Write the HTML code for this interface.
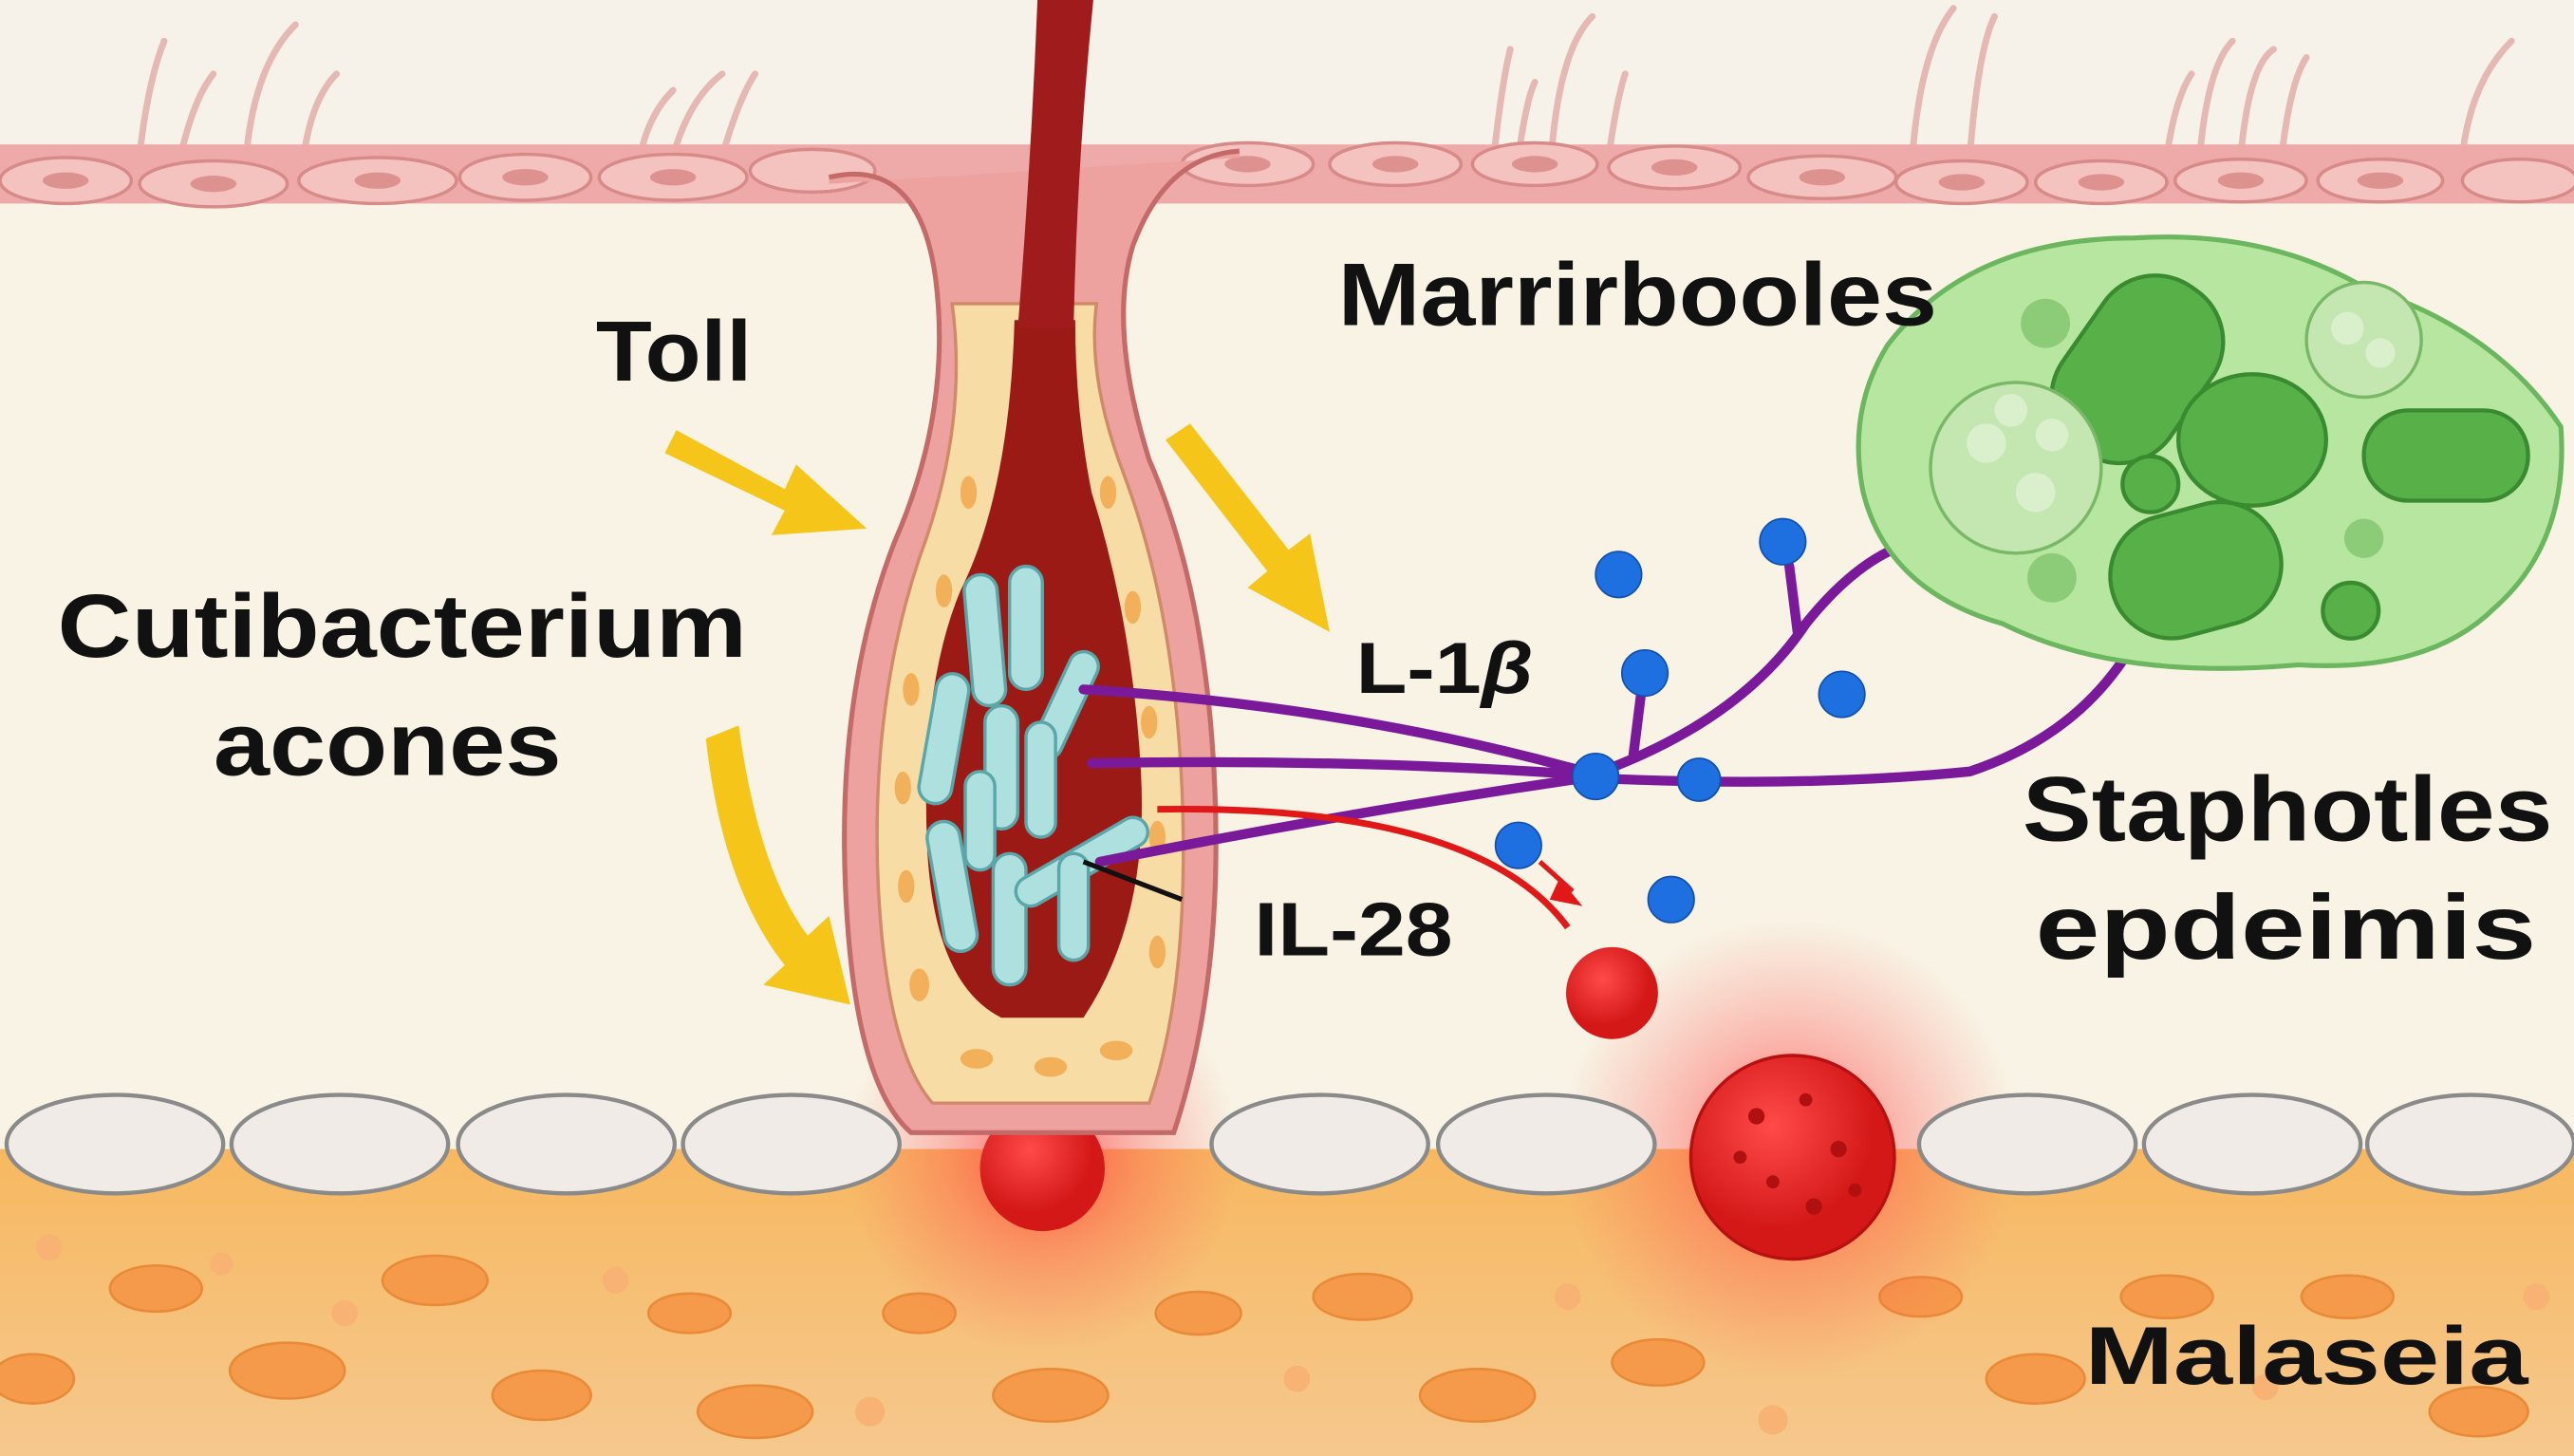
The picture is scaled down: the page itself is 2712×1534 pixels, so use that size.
<!DOCTYPE html>
<html><head><meta charset="utf-8"><style>html,body{margin:0;padding:0;overflow:hidden;background:#f8f3e4}svg{display:block}text{font-family:"Liberation Sans",sans-serif;font-weight:bold;fill:#111}</style></head>
<body>
<svg width="2712" height="1534" viewBox="0 0 1568 887" preserveAspectRatio="none" xmlns="http://www.w3.org/2000/svg">
<defs>
<radialGradient id="glow"><stop offset="0" stop-color="#ff3030" stop-opacity="0.75"/><stop offset="0.5" stop-color="#ff5050" stop-opacity="0.35"/><stop offset="1" stop-color="#ff6060" stop-opacity="0"/></radialGradient>
<radialGradient id="rball" cx="0.4" cy="0.35"><stop offset="0" stop-color="#ff4a4a"/><stop offset="1" stop-color="#d41818"/></radialGradient>
<linearGradient id="orange" x1="0" y1="0" x2="0" y2="1"><stop offset="0" stop-color="#f7b860"/><stop offset="1" stop-color="#f6c88e"/></linearGradient>
</defs>
<rect width="1568" height="887" fill="#f8f3e4"/>
<rect width="1568" height="100" fill="#f6f2ea"/>
<g stroke="#e6b8b4" stroke-width="4" fill="none" stroke-linecap="round">
<path d="M85 95 Q90 50 100 25"/><path d="M110 95 Q118 60 130 45"/><path d="M150 95 Q155 40 180 15"/><path d="M185 95 Q190 60 205 45"/>
<path d="M390 95 Q395 70 410 55"/><path d="M410 95 Q420 60 440 45"/><path d="M440 95 Q450 60 460 45"/>
<path d="M910 95 Q915 50 920 30"/><path d="M925 95 Q930 60 935 50"/><path d="M945 95 Q950 30 970 10"/><path d="M980 95 Q985 60 990 45"/>
<path d="M1165 95 Q1170 30 1190 5"/><path d="M1200 95 Q1205 30 1215 10"/><path d="M1320 95 Q1325 60 1335 45"/><path d="M1340 95 Q1345 40 1360 25"/><path d="M1365 95 Q1370 40 1385 30"/><path d="M1390 95 Q1395 50 1405 35"/><path d="M1500 95 Q1505 50 1530 25"/>
</g>
<rect x="0" y="88" width="1568" height="36" fill="#eeaaa8"/>
<g fill="#f4c2bf" stroke="#d88a88" stroke-width="2">
<ellipse cx="40" cy="110" rx="40" ry="14"/><ellipse cx="130" cy="112" rx="45" ry="14"/><ellipse cx="230" cy="110" rx="48" ry="14"/><ellipse cx="320" cy="108" rx="40" ry="14"/><ellipse cx="410" cy="108" rx="45" ry="14"/><ellipse cx="495" cy="104" rx="38" ry="13"/>
<ellipse cx="760" cy="100" rx="40" ry="13"/><ellipse cx="850" cy="100" rx="40" ry="13"/><ellipse cx="935" cy="100" rx="38" ry="13"/><ellipse cx="1020" cy="102" rx="40" ry="13"/><ellipse cx="1110" cy="108" rx="45" ry="13"/><ellipse cx="1195" cy="111" rx="40" ry="13"/><ellipse cx="1280" cy="111" rx="40" ry="13"/><ellipse cx="1365" cy="110" rx="40" ry="13"/><ellipse cx="1450" cy="110" rx="38" ry="13"/><ellipse cx="1535" cy="110" rx="35" ry="13"/>
</g>
<g fill="#de9290"><ellipse cx="40" cy="110" rx="14" ry="5"/><ellipse cx="130" cy="112" rx="14" ry="5"/><ellipse cx="230" cy="110" rx="14" ry="5"/><ellipse cx="320" cy="108" rx="14" ry="5"/><ellipse cx="410" cy="108" rx="14" ry="5"/><ellipse cx="760" cy="100" rx="14" ry="5"/><ellipse cx="850" cy="100" rx="14" ry="5"/><ellipse cx="935" cy="100" rx="14" ry="5"/><ellipse cx="1020" cy="102" rx="14" ry="5"/><ellipse cx="1110" cy="108" rx="14" ry="5"/><ellipse cx="1195" cy="111" rx="14" ry="5"/><ellipse cx="1280" cy="111" rx="14" ry="5"/><ellipse cx="1365" cy="110" rx="14" ry="5"/><ellipse cx="1450" cy="110" rx="14" ry="5"/></g>
<rect x="0" y="700" width="1568" height="187" fill="url(#orange)"/>
<g fill="#f59a4a" stroke="#e88a38" stroke-width="1.5">
<ellipse cx="95" cy="785" rx="28" ry="14"/><ellipse cx="175" cy="835" rx="35" ry="17"/><ellipse cx="265" cy="780" rx="32" ry="15"/><ellipse cx="330" cy="850" rx="30" ry="15"/><ellipse cx="20" cy="840" rx="25" ry="15"/><ellipse cx="420" cy="800" rx="25" ry="12"/><ellipse cx="460" cy="860" rx="35" ry="16"/><ellipse cx="640" cy="850" rx="35" ry="16"/><ellipse cx="730" cy="800" rx="26" ry="13"/><ellipse cx="830" cy="790" rx="30" ry="14"/><ellipse cx="900" cy="850" rx="35" ry="16"/><ellipse cx="1010" cy="830" rx="28" ry="14"/><ellipse cx="1170" cy="790" rx="25" ry="12"/><ellipse cx="1240" cy="840" rx="30" ry="15"/><ellipse cx="1320" cy="790" rx="28" ry="13"/><ellipse cx="1430" cy="790" rx="28" ry="13"/><ellipse cx="1510" cy="860" rx="30" ry="15"/><ellipse cx="560" cy="800" rx="22" ry="12"/>
</g>
<g fill="#f7b274"><circle cx="30" cy="760" r="8"/><circle cx="135" cy="770" r="7"/><circle cx="210" cy="800" r="8"/><circle cx="375" cy="780" r="8"/><circle cx="530" cy="860" r="9"/><circle cx="790" cy="840" r="8"/><circle cx="955" cy="790" r="8"/><circle cx="1080" cy="865" r="9"/><circle cx="1380" cy="845" r="8"/><circle cx="1545" cy="790" r="8"/></g>
<circle cx="635" cy="705" r="120" fill="url(#glow)"/>
<circle cx="1090" cy="700" r="140" fill="url(#glow)"/>
<g fill="#f0ebe6" stroke="#8a8a8a" stroke-width="2.5">
<ellipse cx="70" cy="697" rx="66" ry="30"/><ellipse cx="207" cy="697" rx="66" ry="30"/><ellipse cx="345" cy="697" rx="66" ry="30"/><ellipse cx="482" cy="697" rx="66" ry="30"/><ellipse cx="804" cy="697" rx="66" ry="30"/><ellipse cx="942" cy="697" rx="66" ry="30"/><ellipse cx="1235" cy="697" rx="66" ry="30"/><ellipse cx="1372" cy="697" rx="66" ry="30"/><ellipse cx="1505" cy="697" rx="63" ry="30"/>
</g>
<circle cx="635" cy="712" r="38" fill="url(#rball)"/>
<circle cx="1092" cy="705" r="62" fill="url(#rball)" stroke="#b81010" stroke-width="2"/>
<g fill="#b01010"><circle cx="1070" cy="680" r="5"/><circle cx="1100" cy="670" r="4"/><circle cx="1120" cy="700" r="5"/><circle cx="1080" cy="720" r="4"/><circle cx="1060" cy="705" r="4"/><circle cx="1105" cy="735" r="5"/><circle cx="1130" cy="725" r="4"/></g>
<circle cx="982" cy="605" r="28" fill="url(#rball)"/>
<!-- follicle -->
<path d="M505 108 Q560 95 570 170 Q580 250 545 330 Q510 420 515 540 Q520 660 555 690 L715 690 Q745 600 740 480 Q735 360 700 280 Q675 200 690 150 Q710 95 755 92 L755 96 L505 112Z" fill="#eda29f"/>
<path d="M505 108 Q560 95 570 170 Q580 250 545 330 Q510 420 515 540 Q520 660 555 690 L715 690 Q745 600 740 480 Q735 360 700 280 Q675 200 690 150 Q710 95 755 92" fill="none" stroke="#c46a68" stroke-width="3"/>
<path d="M580 185 Q590 260 560 340 Q530 430 535 540 Q540 640 568 672 L700 672 Q725 600 720 480 Q715 370 685 290 Q662 230 668 185 Z" fill="#f8dca6" stroke="#d08a6a" stroke-width="2"/>
<g fill="#f2b05a"><ellipse cx="555" cy="420" rx="5" ry="10"/><ellipse cx="550" cy="480" rx="5" ry="10"/><ellipse cx="552" cy="540" rx="5" ry="10"/><ellipse cx="560" cy="600" rx="6" ry="10"/><ellipse cx="595" cy="645" rx="10" ry="6"/><ellipse cx="640" cy="650" rx="10" ry="6"/><ellipse cx="680" cy="640" rx="10" ry="6"/><ellipse cx="705" cy="580" rx="5" ry="10"/><ellipse cx="705" cy="510" rx="5" ry="10"/><ellipse cx="700" cy="440" rx="5" ry="10"/><ellipse cx="690" cy="370" rx="5" ry="10"/><ellipse cx="675" cy="300" rx="5" ry="10"/><ellipse cx="590" cy="300" rx="5" ry="10"/><ellipse cx="575" cy="360" rx="5" ry="10"/></g>
<path d="M618 195 Q615 300 585 360 Q560 420 565 520 Q570 600 610 620 L660 620 Q700 560 695 470 Q690 380 665 300 Q655 250 655 195 Z" fill="#9c1a16"/>
<path d="M632 0 L666 0 Q656 100 654 200 L620 200 Q628 100 632 0Z" fill="#a01c1c"/>
<g fill="#aee0e0" stroke="#5aa6a8" stroke-width="2">
<rect x="590" y="350" width="20" height="80" rx="10" transform="rotate(-5 600 390)"/><rect x="615" y="345" width="20" height="75" rx="10"/><rect x="640" y="395" width="18" height="70" rx="9" transform="rotate(25 650 430)"/><rect x="565" y="410" width="20" height="80" rx="10" transform="rotate(10 575 450)"/><rect x="600" y="430" width="20" height="75" rx="10"/><rect x="625" y="440" width="18" height="70" rx="9"/><rect x="570" y="500" width="20" height="80" rx="10" transform="rotate(-10 580 540)"/><rect x="605" y="520" width="20" height="80" rx="10"/><rect x="650" y="480" width="18" height="90" rx="9" transform="rotate(60 659 525)"/><rect x="645" y="520" width="18" height="65" rx="9"/><rect x="588" y="470" width="18" height="60" rx="9"/></g>
<g fill="#f6c51a">
<path d="M412 262 L478 298 L485 283 L528 322 L470 326 L478 311 L405 276Z"/>
<path d="M710 268 L725 258 L785 335 L798 325 L810 385 L760 358 L772 348Z"/>
<path d="M430 450 L450 442 Q462 530 492 570 L505 558 L518 612 L465 600 L478 588 Q440 540 430 450Z"/>
</g>
<g stroke="#7a1a9a" stroke-width="6" fill="none" stroke-linecap="round">
<path d="M660 420 Q820 430 965 470"/><path d="M665 465 Q820 462 965 472"/><path d="M670 525 Q820 495 965 474"/>
<path d="M970 472 Q1060 440 1100 380 Q1140 330 1180 328"/><path d="M970 474 Q1100 480 1200 470 Q1290 440 1318 350"/>
<path d="M1090 345 L1095 385"/><path d="M1000 420 L995 460"/>
</g>
<path d="M705 493 Q900 490 955 565" stroke="#e01818" stroke-width="4" fill="none"/>
<path d="M938 525 L958 543" stroke="#e01818" stroke-width="3"/><path d="M950 535 L964 552 L944 548Z" fill="#e01818"/>
<path d="M660 525 L720 548" stroke="#111" stroke-width="3"/>
<g fill="#1e6fe0" stroke="#1250b0" stroke-width="1">
<circle cx="986" cy="350" r="14"/><circle cx="1086" cy="330" r="14"/><circle cx="1002" cy="410" r="14"/><circle cx="1122" cy="423" r="14"/><circle cx="972" cy="473" r="14"/><circle cx="1035" cy="475" r="13"/><circle cx="925" cy="515" r="14"/><circle cx="1018" cy="548" r="14"/>
</g>
<path d="M1150 210 Q1200 145 1300 145 Q1380 140 1440 175 Q1520 200 1560 260 Q1565 330 1520 370 Q1480 410 1400 405 Q1290 415 1220 380 Q1150 360 1135 300 Q1125 250 1150 210Z" fill="#b6e6a0" stroke="#6cb660" stroke-width="3"/>
<g fill="#58b048" stroke="#3a8a30" stroke-width="2.5">
<rect x="1262" y="165" width="80" height="120" rx="38" transform="rotate(35 1302 225)"/>
<ellipse cx="1372" cy="268" rx="45" ry="40"/>
<rect x="1440" y="250" width="100" height="55" rx="27"/>
<rect x="1285" y="310" width="105" height="75" rx="37" transform="rotate(-15 1337 347)"/>
<circle cx="1310" cy="295" r="17"/><circle cx="1432" cy="372" r="17"/>
</g>
<g fill="#c4e6b0" stroke="#7ab868" stroke-width="2"><circle cx="1228" cy="285" r="52"/><circle cx="1440" cy="207" r="35"/></g>
<g fill="#e0f2d4" opacity="0.8"><circle cx="1210" cy="270" r="12"/><circle cx="1240" cy="300" r="12"/><circle cx="1225" cy="250" r="10"/><circle cx="1250" cy="265" r="10"/><circle cx="1430" cy="200" r="10"/><circle cx="1450" cy="215" r="9"/></g>
<g fill="#8ccc78"><circle cx="1246" cy="197" r="15"/><circle cx="1250" cy="352" r="15"/><circle cx="1440" cy="328" r="12"/></g>
<text x="363" y="232" font-size="52" textLength="95" lengthAdjust="spacingAndGlyphs">Toll</text>
<text x="35" y="400" font-size="55" textLength="420" lengthAdjust="spacingAndGlyphs">Cutibacterium</text>
<text x="130" y="472" font-size="55" textLength="212" lengthAdjust="spacingAndGlyphs">acones</text>
<text x="815" y="198" font-size="54" textLength="365" lengthAdjust="spacingAndGlyphs">Marrirbooles</text>
<text x="826" y="422" font-size="44" textLength="108" lengthAdjust="spacingAndGlyphs">L-1<tspan font-style="italic">β</tspan></text>
<text x="764" y="582" font-size="46" textLength="121" lengthAdjust="spacingAndGlyphs">IL-28</text>
<text x="1232" y="512" font-size="56" textLength="323" lengthAdjust="spacingAndGlyphs">Staphotles</text>
<text x="1240" y="584" font-size="56" textLength="305" lengthAdjust="spacingAndGlyphs">epdeimis</text>
<text x="1270" y="843" font-size="50" textLength="270" lengthAdjust="spacingAndGlyphs">Malaseia</text>
</svg>
</body></html>
